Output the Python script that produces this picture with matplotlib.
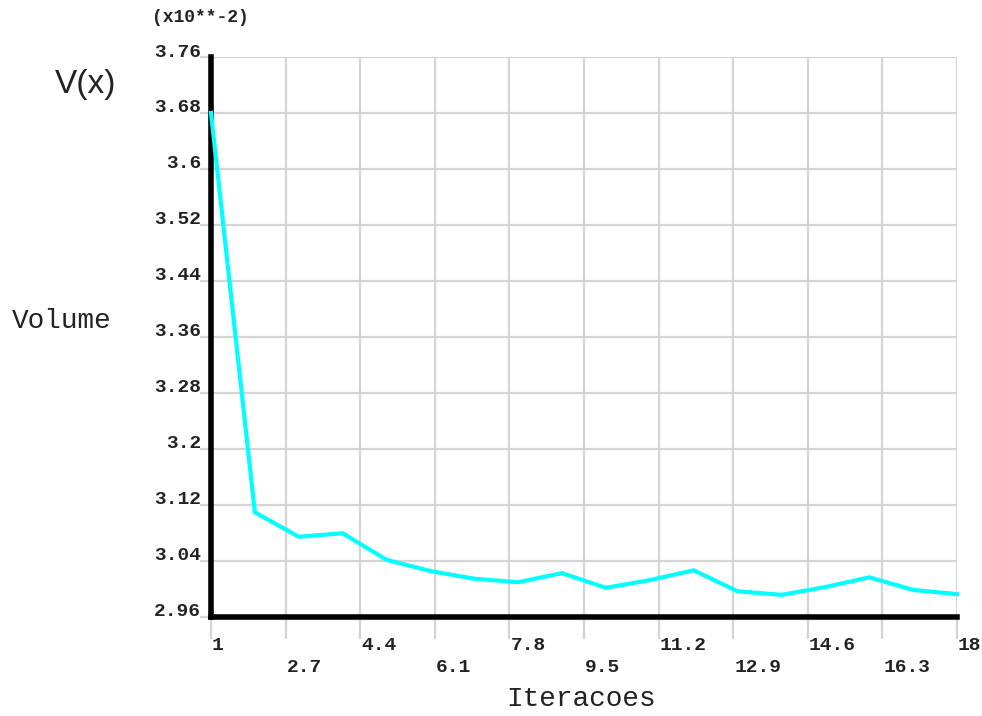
import matplotlib.pyplot as plt
import matplotlib.transforms as mtransforms

# volume per iteration (values in units of 10**-2)
iteracoes = list(range(1, 19))
volume = [3.680, 3.109, 3.074, 3.079, 3.041, 3.025, 3.014, 3.009, 3.022,
          3.001, 3.012, 3.026, 2.996, 2.991, 3.002, 3.016, 2.998, 2.992]

x_ticks = [1, 2.7, 4.4, 6.1, 7.8, 9.5, 11.2, 12.9, 14.6, 16.3, 18]
x_labels = ["1", "2.7", "4.4", "6.1", "7.8", "9.5", "11.2", "12.9", "14.6", "16.3", "18"]
y_ticks = [2.96, 3.04, 3.12, 3.2, 3.28, 3.36, 3.44, 3.52, 3.6, 3.68, 3.76]
y_labels = ["2.96", "3.04", "3.12", "3.2", "3.28", "3.36", "3.44", "3.52", "3.6", "3.68", "3.76"]

mono = "Liberation Mono"
grid_color = "#d4d4d4"

fig = plt.figure(figsize=(9.82, 7.16), dpi=100)
ax = fig.add_axes([211 / 982, 1 - 616.5 / 716, 746 / 982, 559.5 / 716])

ax.set_xlim(1, 18)
ax.set_ylim(2.96, 3.76)

# grid lines, including the top and right borders
for xt in x_ticks:
    ax.axvline(xt, color=grid_color, linewidth=1.6, zorder=1)
for yt in y_ticks:
    ax.axhline(yt, color=grid_color, linewidth=1.6, zorder=1)

# curve drawn over the black axis, as in the original
ax.plot(iteracoes, volume, color="#00ffff", linewidth=3, zorder=5,
        solid_joinstyle="miter", clip_on=False)

for side in ["top", "right"]:
    ax.spines[side].set_visible(False)
for side in ["left", "bottom"]:
    ax.spines[side].set_linewidth(4)
    ax.spines[side].set_color("black")
    ax.spines[side].set_zorder(4)

ax.set_xticks(x_ticks)
ax.set_xticklabels([])
ax.set_yticks(y_ticks)
ax.set_yticklabels([])
ax.tick_params(axis="x", length=16, width=1.6, color=grid_color, direction="out")
ax.tick_params(axis="y", length=8, width=1.6, color=grid_color, direction="out")

# staggered x tick labels, left aligned at the tick
xform = ax.get_xaxis_transform()
for i, (xt, lab) in enumerate(zip(x_ticks, x_labels)):
    dy = -29 if i % 2 == 0 else -51
    off = mtransforms.offset_copy(xform, fig=fig, x=1, y=dy, units="dots")
    ax.text(xt, 0, lab, transform=off, ha="left", va="center",
            family=mono, fontsize=14, fontweight="bold", color="#222222")

yform = ax.get_yaxis_transform()
for yt, lab in zip(y_ticks, y_labels):
    off = mtransforms.offset_copy(yform, fig=fig, x=-10, y=5, units="dots")
    ax.text(0, yt, lab, transform=off, ha="right", va="center",
            family=mono, fontsize=14, fontweight="bold", color="#222222")

fig.text(200 / 982, 1 - 17 / 716, "(x10**-2)", ha="center", va="center",
         family=mono, fontsize=13, fontweight="bold", color="#222222")
fig.text(86 / 982, 1 - 85 / 716, "V(x)", ha="center", va="center",
         family="Liberation Sans", fontsize=24, color="#222222")
fig.text(62 / 982, 1 - 321 / 716, "Volume", ha="center", va="center",
         family=mono, fontsize=20, color="#222222")
fig.text(581 / 982, 1 - 699 / 716, "Iteracoes", ha="center", va="center",
         family=mono, fontsize=20, color="#222222")

fig.savefig("out.png", dpi=100)
